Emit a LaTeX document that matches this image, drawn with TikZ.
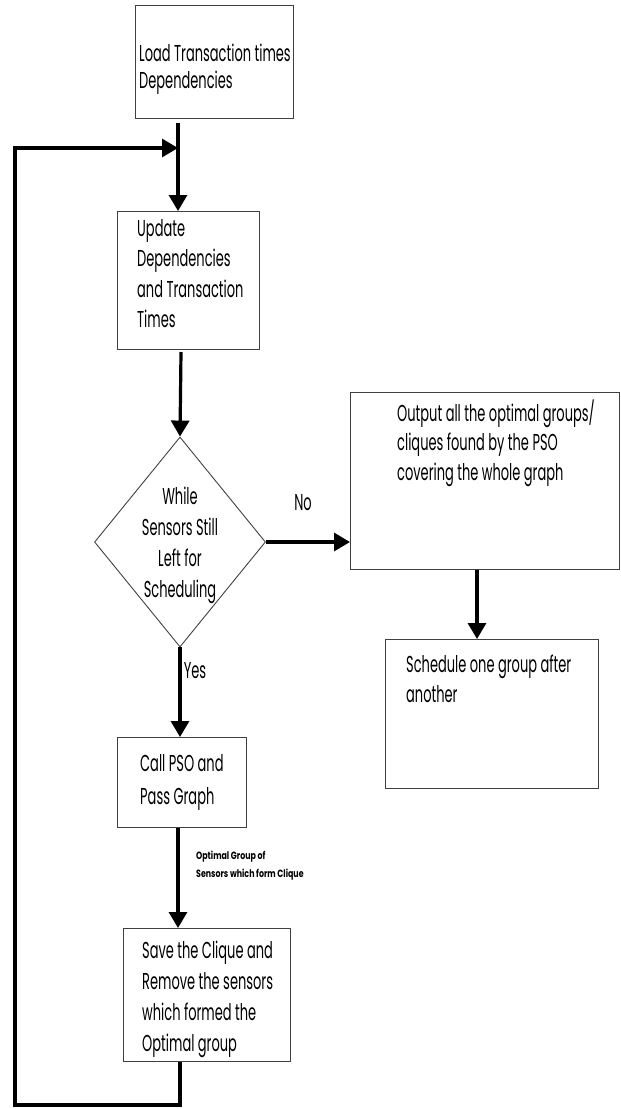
\documentclass[tikz,border=0pt]{standalone}
\usepackage{fontspec}
\setmainfont{Poppins}[FakeStretch=0.565]
\newfontfamily\smallfont{Poppins}[FakeStretch=0.75]
\usetikzlibrary{arrows.meta,shapes.geometric,calc}
\newcommand\ltab[1]{\begin{tabular}[t]{@{}l@{}}#1\end{tabular}}
\newcommand\ctab[1]{\begin{tabular}[t]{@{}c@{}}#1\end{tabular}}
\begin{document}
\begin{tikzpicture}[x=1pt,y=-1pt,
  box/.style={draw=black!75, line width=0.9pt, rectangle, inner sep=0pt, anchor=north west},
  txt/.style={anchor=base west, inner sep=0pt, font=\fontsize{23}{30}\selectfont},
  ctxt/.style={anchor=base, inner sep=0pt, font=\fontsize{23}{31}\selectfont},
  small/.style={anchor=base west, inner sep=0pt, font=\smallfont\bfseries\fontsize{10.5}{18}\selectfont},
  conn/.style={line width=3.2pt, -{Triangle[length=16pt,width=18pt]}},
  ]
\useasboundingbox (0,0) rectangle (621,1109);
% boxes
\node[box, minimum width=158pt, minimum height=113pt] (load) at (135,5) {};
\node[box, minimum width=142pt, minimum height=138pt] (update) at (117,211) {};
\node[draw=black!75, line width=0.9pt, diamond, inner sep=0pt, minimum width=171pt, minimum height=210pt] (dec) at (180,542) {};
\node[box, minimum width=269pt, minimum height=177pt] (out) at (350,392) {};
\node[box, minimum width=213pt, minimum height=149pt] (sched) at (385,639) {};
\node[box, minimum width=129pt, minimum height=90pt] (call) at (117,737) {};
\node[box, minimum width=167pt, minimum height=133pt] (save) at (123,928) {};
% texts
\node[txt, font=\fontsize{23}{27}\selectfont] (tload) at (139,61) {\ltab{Load Transaction times\\Dependencies}};
\node[txt, font=\fontsize{23}{30.5}\selectfont] (tupdate) at (137,236) {\ltab{Update\\Dependencies\\and Transaction\\Times}};
\node[ctxt] (tdec) at (180,504) {\ctab{While\\Sensors Still\\Left for\\Scheduling}};
\node[txt, font=\fontsize{23}{29.5}\selectfont] (tout) at (397,421) {\ltab{Output all the optimal groups/\\cliques found by the PSO\\covering the whole graph}};
\node[txt, font=\fontsize{23}{30}\selectfont] (tsched) at (406,672) {\ltab{Schedule one group after\\another}};
\node[txt, font=\fontsize{23}{33}\selectfont] (tcall) at (140,771) {\ltab{Call PSO and\\Pass Graph}};
\node[txt, font=\fontsize{23}{31.3}\selectfont] (tsave) at (142,958) {\ltab{Save the Clique and\\Remove the sensors\\which formed the\\Optimal group}};
\node[ctxt] (no) at (303,510) {No};
\node[ctxt] (yes) at (195,678) {Yes};
\node[small] (lbl) at (196,859) {\ltab{Optimal Group of\\Sensors which form Clique}};
% junction coordinates
\coordinate (j1) at (178,148);
\coordinate (c1) at (181,352);
\coordinate (c2) at (477,571);
\coordinate (c3) at (178,827);
\coordinate (c4) at (180,1105);
\coordinate (c5) at (15,1105);
\coordinate (c6) at (15,148);
% connectors
\draw[conn] ($(load.south -| j1)+(0,4)$) -- (update.north -| j1);
\draw[conn] (c1) -- (dec.north);
\draw[conn] (dec.east) -- (dec.east -| out.west);
\draw[conn] (out.south -| c2) -- (sched.north -| c2);
\draw[conn] (dec.south) -- (call.north -| dec.south);
\draw[conn] (call.south -| c3) -- (save.north -| c3);
\draw[conn] (save.south -| c4) -- (c4) -- (c5) -- (c6) -- (j1);
\end{tikzpicture}
\end{document}
